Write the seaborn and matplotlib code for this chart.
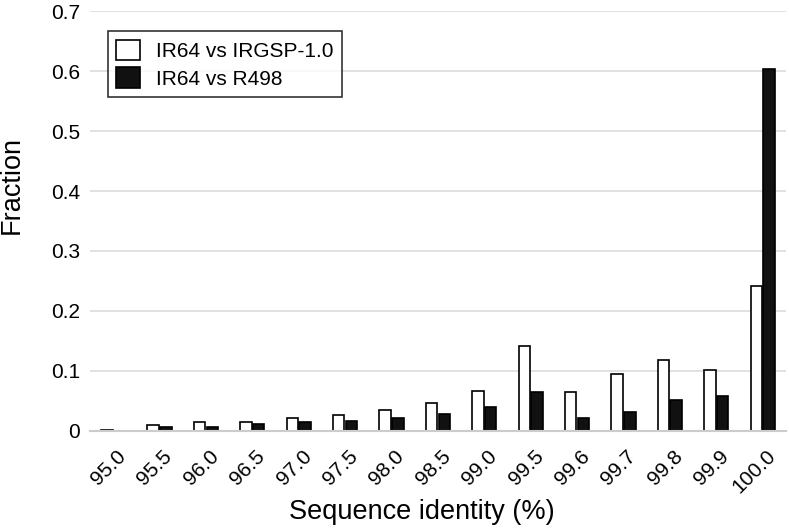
import pandas as pd
import matplotlib
matplotlib.use("Agg")
import matplotlib.pyplot as plt
import matplotlib.transforms as mtransforms
import seaborn as sns

# data
identity = ["95.0", "95.5", "96.0", "96.5", "97.0", "97.5", "98.0", "98.5",
            "99.0", "99.5", "99.6", "99.7", "99.8", "99.9", "100.0"]
irgsp = [0.002, 0.010, 0.014, 0.014, 0.021, 0.026, 0.035, 0.047,
         0.067, 0.141, 0.065, 0.095, 0.118, 0.102, 0.241]
r498 = [0.0, 0.007, 0.007, 0.012, 0.014, 0.016, 0.021, 0.028,
        0.040, 0.065, 0.021, 0.032, 0.052, 0.058, 0.604]
series = ["IR64 vs IRGSP-1.0", "IR64 vs R498"]

df = pd.DataFrame({
    "identity": identity * 2,
    "fraction": irgsp + r498,
    "pair": [series[0]] * len(identity) + [series[1]] * len(identity),
})

sns.set_style("white")
plt.rcParams["font.family"] = ["Liberation Sans", "DejaVu Sans"]
plt.rcParams["text.color"] = "black"
plt.rcParams["xtick.color"] = "black"
plt.rcParams["ytick.color"] = "black"
plt.rcParams["axes.labelcolor"] = "black"

fig, ax = plt.subplots(figsize=(7.89, 5.3), dpi=100)
fig.subplots_adjust(left=0.114, right=0.996, top=0.979, bottom=0.187)

sns.barplot(data=df, x="identity", y="fraction", hue="pair",
            palette={series[0]: "white", series[1]: "#111111"},
            edgecolor="black", linewidth=1.2, width=0.55, gap=0.1, ax=ax)

ax.set_ylim(0, 0.7)
ax.set_yticks([0, 0.1, 0.2, 0.3, 0.4, 0.5, 0.6, 0.7])
ax.set_yticklabels(["0", "0.1", "0.2", "0.3", "0.4", "0.5", "0.6", "0.7"])
ax.yaxis.grid(True, color="#dcdcdc", linewidth=1.2)
ax.set_axisbelow(True)
for s in ["left", "right", "top"]:
    ax.spines[s].set_visible(False)
ax.spines["bottom"].set_color("#cccccc")
ax.spines["bottom"].set_linewidth(1.5)
ax.tick_params(axis="y", length=0, labelsize=15, pad=7)
ax.tick_params(axis="x", length=0, labelsize=15, pad=11)

# rotated x labels, nudged a little right
shift = mtransforms.ScaledTranslation(3 / 100, 0, fig.dpi_scale_trans)
for lab in ax.get_xticklabels():
    lab.set_rotation(45)
    lab.set_ha("right")
    lab.set_rotation_mode("anchor")
    lab.set_transform(lab.get_transform() + shift)

ax.set_xlabel("Sequence identity (%)", fontsize=19.5)
ax.set_ylabel("Fraction", fontsize=19.5)
ax.xaxis.set_label_coords(0.477, -0.162)
ax.yaxis.set_label_coords(-0.093, 0.586)

leg = ax.legend(loc="upper left", bbox_to_anchor=(0.026, 0.952), fontsize=15,
                frameon=True, fancybox=False, edgecolor="black",
                handlelength=1.15, handleheight=1.15, borderpad=0.4,
                labelspacing=0.3, handletextpad=0.75, borderaxespad=0)
leg.get_frame().set_linewidth(1.2)

plt.savefig("out.png", dpi=100)
